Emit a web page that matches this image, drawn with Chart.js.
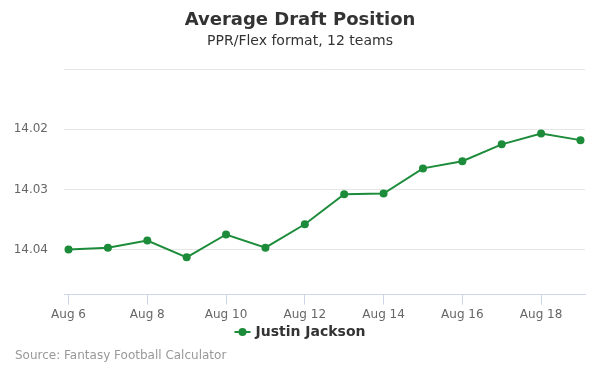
<!DOCTYPE html>
<html lang="en">
<head>
  <meta charset="UTF-8" />
  <title>Average Draft Position</title>
  <script src="https://cdn.jsdelivr.net/npm/chart.js"></script>
  <style>
    html, body { margin: 0; padding: 0; background: #ffffff; }
    .wrap { position: relative; width: 600px; height: 375px; }
  </style>
</head>
<body>
  <div class="wrap">
    <canvas id="adpChart" width="600" height="375"></canvas>
  </div>

  <script>
    // data
    const days = [6, 7, 8, 9, 10, 11, 12, 13, 14, 15, 16, 17, 18, 19];
    const adp = [14.0400, 14.0397, 14.0385, 14.0413, 14.0375, 14.0397, 14.0358,
                 14.0308, 14.0307, 14.0265, 14.0253, 14.0225, 14.0207, 14.0218];
    const xTicks = [6, 8, 10, 12, 14, 16, 18];
    const yTicks = [14.01, 14.02, 14.03, 14.04];
    const yLabels = ["", "14.02", "14.03", "14.04"];

    const playerName = "Justin Jackson";
    const titleText = "Average Draft Position";
    const subtitleText = "PPR/Flex format, 12 teams";
    const sourceText = "Source: Fantasy Football Calculator";

    const green = "#1d8c3a";
    const font = "'DejaVu Sans', sans-serif";

    // title, subtitle, legend and source drawn on the canvas
    const decor = {
      id: "decor",
      afterDraw(chart) {
        const ctx = chart.ctx;
        ctx.save();
        ctx.textAlign = "center";
        ctx.textBaseline = "middle";
        ctx.fillStyle = "#333333";
        ctx.font = "bold 18px " + font;
        ctx.fillText(titleText, 300, 20);
        ctx.font = "14px " + font;
        ctx.fillText(subtitleText, 300, 41);

        // legend
        ctx.font = "bold 14px " + font;
        const tw = ctx.measureText(playerName).width;
        const total = 16 + 5 + tw;
        const x0 = 300 - total / 2;
        const ly = 332;
        ctx.strokeStyle = green;
        ctx.lineWidth = 2;
        ctx.beginPath();
        ctx.moveTo(x0, ly);
        ctx.lineTo(x0 + 16, ly);
        ctx.stroke();
        ctx.fillStyle = green;
        ctx.beginPath();
        ctx.arc(x0 + 8, ly, 4, 0, Math.PI * 2);
        ctx.fill();
        ctx.fillStyle = "#333333";
        ctx.textAlign = "left";
        ctx.fillText(playerName, x0 + 21, ly);

        // source
        ctx.font = "12px " + font;
        ctx.fillStyle = "#999999";
        ctx.fillText(sourceText, 15, 356);
        ctx.restore();
      }
    };

    new Chart(document.getElementById("adpChart"), {
      type: "line",
      data: {
        datasets: [{
          label: playerName,
          data: days.map((d, i) => ({ x: d, y: adp[i] })),
          borderColor: green,
          backgroundColor: green,
          borderWidth: 2,
          pointRadius: 4,
          pointHoverRadius: 4,
          pointBorderWidth: 0,
          tension: 0
        }]
      },
      options: {
        responsive: false,
        animation: false,
        layout: { padding: { top: 68, left: 0, right: 15, bottom: 50 } },
        plugins: {
          legend: { display: false },
          tooltip: { enabled: false },
          title: { display: false }
        },
        scales: {
          x: {
            type: "linear",
            min: 5.885,
            max: 19.115,
            afterBuildTicks: s => { s.ticks = xTicks.map(v => ({ value: v })); },
            ticks: {
              callback: v => "Aug " + v,
              color: "#666666",
              font: { family: font, size: 12 },
              padding: 3,
              maxRotation: 0
            },
            grid: {
              drawOnChartArea: false,
              drawTicks: true,
              tickLength: 10,
              color: "#ccd6eb"
            },
            border: { color: "#ccd6eb", width: 1 }
          },
          y: {
            reverse: true,
            min: 14.0098,
            max: 14.0475,
            afterBuildTicks: s => { s.ticks = yTicks.map(v => ({ value: v })); },
            afterFit: s => { s.width = 64; },
            ticks: {
              callback: (v, i) => yLabels[i],
              color: "#666666",
              font: { family: font, size: 12 },
              padding: 16
            },
            grid: { color: "#e6e6e6", drawTicks: false },
            border: { display: false }
          }
        }
      },
      plugins: [decor]
    });
  </script>
</body>
</html>
